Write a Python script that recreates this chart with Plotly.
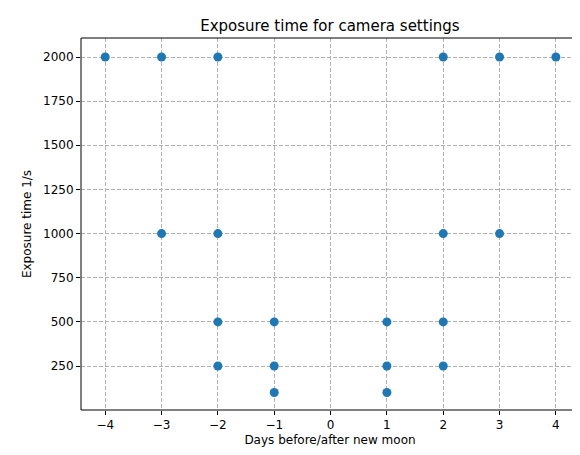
import plotly.graph_objects as go

days = [-4, -3, -3, -2, -2, -2, -2, -1, -1, -1, 1, 1, 1, 2, 2, 2, 2, 3, 3, 4]
exposure = [2000, 2000, 1000, 2000, 1000, 500, 250, 500, 250, 100,
            500, 250, 100, 2000, 1000, 500, 250, 2000, 1000, 2000]

fig = go.Figure(go.Scatter(x=days, y=exposure, mode="markers",
                           marker=dict(color="#1f77b4", size=9), cliponaxis=False))

axis = dict(showline=False, ticks="outside", tickcolor="black", ticklen=4,
            showgrid=True, gridcolor="#b0b0b0", griddash="4px,2px", zeroline=False,
            automargin=False, tickfont=dict(size=12, color="black"))

fig.update_layout(
    width=580, height=455, plot_bgcolor="white", paper_bgcolor="white",
    font=dict(family="DejaVu Sans", color="black"),
    margin=dict(l=73, r=9, t=30, b=53),
    title=dict(text="Exposure time for camera settings", x=0.555, xanchor="center",
               y=0.96, yanchor="middle", font=dict(size=15)),
    xaxis=dict(axis, range=[-4.43, 4.41], tickvals=list(range(-4, 5)),
               title=dict(text="Days before/after new moon", font=dict(size=12), standoff=4)),
    yaxis=dict(axis, range=[1, 2107.6], tickvals=[250, 500, 750, 1000, 1250, 1500, 1750, 2000],
               title=dict(text="Exposure time 1/s", font=dict(size=12), standoff=8)),
    showlegend=False,
)
fig.add_shape(type="rect", xref="paper", yref="paper", x0=0, y0=0, x1=1, y1=1,
              line=dict(color="black", width=1))

fig.write_html("out.html")
